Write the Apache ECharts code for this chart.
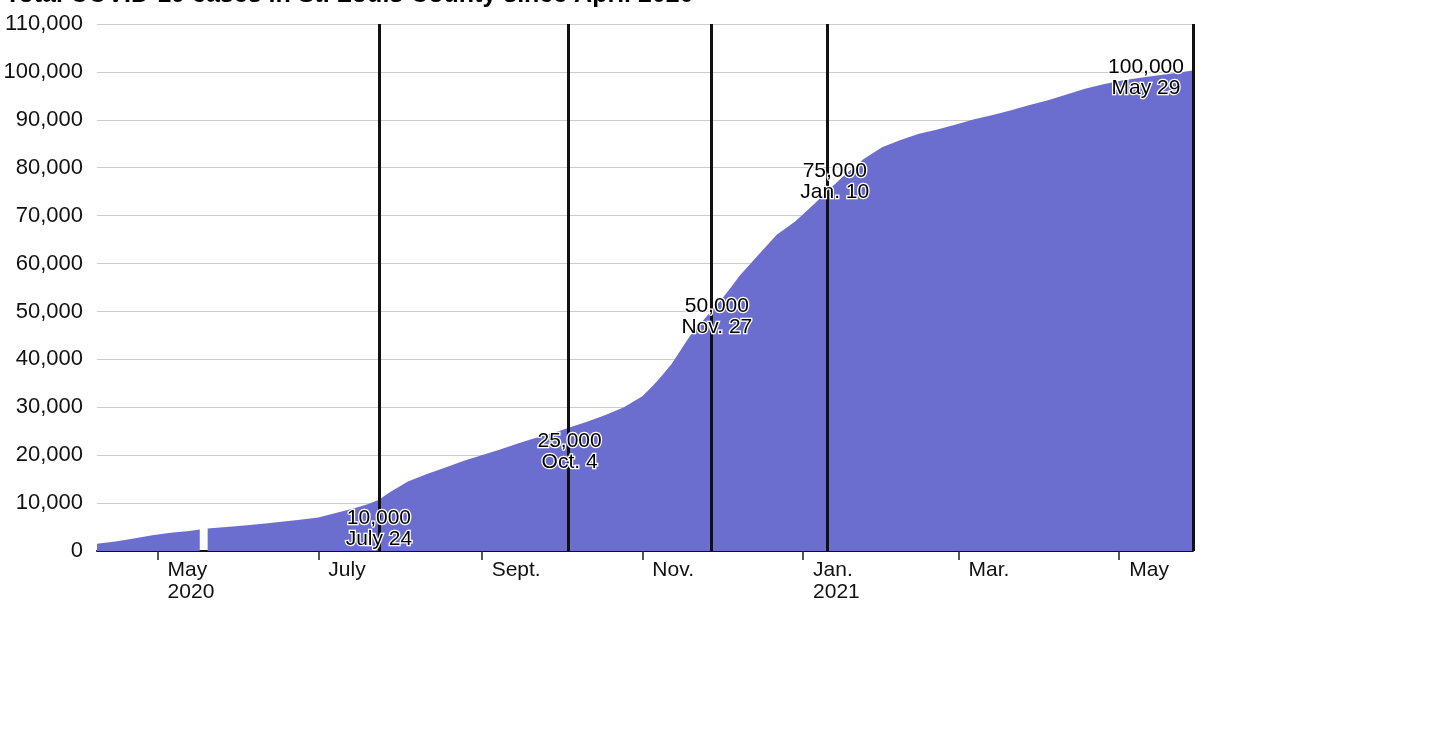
<!DOCTYPE html>
<html>
<head>
<meta charset="utf-8">
<title>Total COVID-19 cases in St. Louis County</title>
<script src="https://cdn.jsdelivr.net/npm/echarts@6/dist/echarts.min.js"></script>
<style>
  html, body { margin: 0; padding: 0; background: #fff; }
  #chart { width: 1440px; height: 756px; }
</style>
</head>
<body>
<div id="chart"></div>
<script>
// cumulative cases (null = missing report)
var dates = [
  '2020-04-08', '2020-04-15', '2020-04-22', '2020-04-29', '2020-05-06', '2020-05-13', '2020-05-17',
  '2020-05-18', '2020-05-20', '2020-05-27', '2020-06-03', '2020-06-10', '2020-06-17', '2020-06-24',
  '2020-07-01', '2020-07-08', '2020-07-15', '2020-07-20', '2020-07-24', '2020-07-28', '2020-08-04',
  '2020-08-11', '2020-08-18', '2020-08-25', '2020-09-01', '2020-09-08', '2020-09-15', '2020-09-22',
  '2020-09-29', '2020-10-04', '2020-10-11', '2020-10-18', '2020-10-25', '2020-11-01', '2020-11-05',
  '2020-11-08', '2020-11-12', '2020-11-15', '2020-11-19', '2020-11-22', '2020-11-27', '2020-12-01',
  '2020-12-04', '2020-12-08', '2020-12-15', '2020-12-22', '2020-12-29', '2021-01-05', '2021-01-10',
  '2021-01-17', '2021-01-24', '2021-01-31', '2021-02-07', '2021-02-14', '2021-02-21', '2021-02-28',
  '2021-03-07', '2021-03-14', '2021-03-21', '2021-03-28', '2021-04-04', '2021-04-11', '2021-04-18',
  '2021-04-25', '2021-05-02', '2021-05-09', '2021-05-16', '2021-05-23', '2021-05-29'
];
var cases = [
  1500, 2000, 2600, 3300, 3800, 4200, 4500,
  null, 4700, 5000, 5300, 5700, 6100, 6500,
  7000, 8000, 9000, 9800, 10700, 12200, 14500,
  16000, 17400, 18800, 20000, 21200, 22500, 23700,
  24800, 25700, 27000, 28400, 30000, 32300, 34500,
  36300, 39000, 41500, 44800, 46800, 50000, 52500,
  54600, 57500, 61800, 66000, 68800, 72300, 75000,
  78600, 81800, 84300, 85800, 87100, 88000, 89000,
  90100, 91000, 92000, 93100, 94100, 95300, 96500,
  97400, 98200, 98800, 99300, 99800, 100300
];

// milestones marked with a vertical rule
var milestoneDates = ['2020-07-24', '2020-10-04', '2020-11-27', '2021-01-10', '2021-05-29'];
var milestoneCases = [10000, 25000, 50000, 75000, 100000];
var milestoneNames = ['July 24', 'Oct. 4', 'Nov. 27', 'Jan. 10', 'May 29'];
var labelOffsets = [[0, 26], [1, 20], [6, 5], [8, -10], [-47, 6]];

// x axis ticks
var tickDates = ['2020-05-01', '2020-07-01', '2020-09-01', '2020-11-01', '2021-01-01', '2021-03-01', '2021-05-01'];
var tickLabels = ['May\n2020', 'July', 'Sept.', 'Nov.', 'Jan.\n2021', 'Mar.', 'May'];

var xStart = '2020-04-08';
var xEnd = '2021-05-29';
var yMax = 110000;
var yStep = 10000;

function toTime(s) {
  var p = s.split('-');
  return new Date(+p[0], +p[1] - 1, +p[2]).getTime();
}
function fmt(n) {
  return String(n).replace(/\B(?=(\d{3})+(?!\d))/g, ',');
}

var font = '"Liberation Sans", Arial, sans-serif';
var tickTimes = tickDates.map(toTime);

var myChart = echarts.init(document.getElementById('chart'));

var option = {
  backgroundColor: '#fff',
  animation: false,
  title: {
    text: 'Total COVID-19 cases in St. Louis County since April 2020',
    left: 5,
    top: -17,
    padding: 0,
    textStyle: { fontFamily: font, fontSize: 25, fontWeight: 'bold', color: '#000' }
  },
  grid: { left: 97, right: 247, top: 24, bottom: 205 },
  xAxis: {
    // dates as timestamps on a plain value axis so the ticks can sit on month starts
    type: 'value',
    min: toTime(xStart),
    max: toTime(xEnd),
    splitLine: { show: false },
    axisLine: { lineStyle: { color: '#111', width: 2 } },
    axisTick: {
      customValues: tickTimes,
      length: 9,
      lineStyle: { color: '#222', width: 1.5 }
    },
    axisLabel: {
      customValues: tickTimes,
      align: 'left',
      padding: [0, 0, 0, 10],
      margin: 8,
      lineHeight: 22,
      fontFamily: font,
      fontSize: 21,
      color: '#111',
      formatter: function (v) {
        var i = tickTimes.indexOf(v);
        return i >= 0 ? tickLabels[i] : '';
      }
    }
  },
  yAxis: {
    type: 'value',
    min: 0,
    max: yMax,
    interval: yStep,
    axisLine: { show: false },
    axisTick: { show: false },
    splitLine: { lineStyle: { color: '#cccccc', width: 1 } },
    axisLabel: {
      margin: 14,
      fontFamily: font,
      fontSize: 22,
      color: '#111',
      formatter: function (v) { return fmt(v); }
    }
  },
  series: [
    {
      name: 'Total cases',
      type: 'line',
      data: dates.map(function (d, i) { return [toTime(d), cases[i]]; }),
      showSymbol: false,
      connectNulls: false,
      lineStyle: { width: 0, color: '#6b6ecf' },
      areaStyle: { color: '#6b6ecf', opacity: 1 },
      itemStyle: { color: '#6b6ecf' },
      z: 2,
      markLine: {
        silent: true,
        symbol: 'none',
        label: { show: false },
        lineStyle: { color: '#111', width: 3, type: 'solid' },
        data: milestoneDates.map(function (d) { return { xAxis: toTime(d) }; })
      }
    },
    {
      name: 'Milestones',
      type: 'scatter',
      symbolSize: 0,
      z: 10,
      silent: true,
      itemStyle: { opacity: 1 },
      data: milestoneDates.map(function (d, i) {
        return {
          value: [toTime(d), milestoneCases[i]],
          label: { offset: labelOffsets[i] }
        };
      }),
      label: {
        show: true,
        position: 'inside',
        align: 'center',
        verticalAlign: 'middle',
        fontFamily: font,
        fontSize: 21,
        lineHeight: 21,
        color: '#000',
        opacity: 1,
        textBorderColor: '#fff',
        textBorderWidth: 2.5,
        formatter: function (p) {
          return fmt(milestoneCases[p.dataIndex]) + '\n' + milestoneNames[p.dataIndex];
        }
      }
    }
  ]
};

myChart.setOption(option);
</script>
</body>
</html>
